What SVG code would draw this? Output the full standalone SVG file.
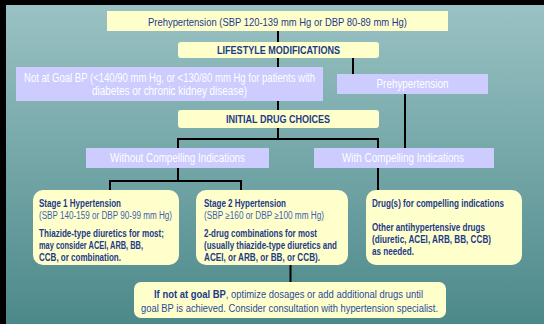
<svg xmlns="http://www.w3.org/2000/svg" width="544" height="324" viewBox="0 0 544 324">
<defs>
<linearGradient id="bg" x1="0" y1="5" x2="0" y2="324" gradientUnits="userSpaceOnUse">
<stop offset="0" stop-color="#9ac2c4"/>
<stop offset="1" stop-color="#4d898a"/>
</linearGradient>
<style>
text{font-family:"Liberation Sans",Arial,sans-serif;}
.y{fill:#ffffcc;}
.l{fill:#ccccff;}
.w{fill:#ffffff;font-size:12px;text-anchor:middle;}
.h{fill:#1c3a8a;text-anchor:middle;}
.b{font-weight:bold;}
.t{fill:#1c3a8a;font-size:10px;font-weight:bold;}
.s{fill:#3d5fb0;font-size:10px;}
.c{fill:none;stroke:#000;stroke-width:2;}
</style>
</defs>
<rect x="0" y="0" width="544" height="324" fill="#000"/>
<rect x="6" y="5" width="538" height="319" fill="url(#bg)"/>
<g id="connectors">
<path class="c" d="M278 31V42M278 58V110M353 58V74M405 94V148M278 128V139M178 148V139H378V190M178 168V181M110 190V181H241V190M290.5 265V282"/>
</g>
<g id="n-prehyp-top">
<rect class="y" x="107" y="11" width="341" height="20"/>
<text class="h" x="277.5" y="25.5" font-size="11.5" textLength="259" lengthAdjust="spacingAndGlyphs">Prehypertension (SBP 120-139 mm Hg or DBP 80-89 mm Hg)</text>
</g>
<g id="n-lifestyle">
<rect class="y" x="178" y="42" width="201" height="16" rx="3"/>
<text class="h b" x="278.5" y="54" font-size="11" textLength="123" lengthAdjust="spacingAndGlyphs">LIFESTYLE MODIFICATIONS</text>
</g>
<g id="n-notgoal">
<rect class="l" x="16" y="67" width="307" height="34"/>
<text class="w" x="169.5" y="81.5" font-size="11.5" textLength="291" lengthAdjust="spacingAndGlyphs">Not at Goal BP (&lt;140/90 mm Hg, or &lt;130/80 mm Hg for patients with</text>
<text class="w" x="169.5" y="94.5" font-size="11.5" textLength="155" lengthAdjust="spacingAndGlyphs">diabetes or chronic kidney disease)</text>
</g>
<g id="n-prehyp-right">
<rect class="l" x="337" y="74" width="151" height="20"/>
<text class="w" x="412.5" y="88" textLength="72" lengthAdjust="spacingAndGlyphs">Prehypertension</text>
</g>
<g id="n-initial">
<rect class="y" x="178" y="110" width="201" height="18" rx="3"/>
<text class="h b" x="278" y="123" font-size="11" textLength="104" lengthAdjust="spacingAndGlyphs">INITIAL DRUG CHOICES</text>
</g>
<g id="n-without">
<rect class="l" x="86" y="148" width="183" height="20"/>
<text class="w" x="177.5" y="162" textLength="135" lengthAdjust="spacingAndGlyphs">Without Compelling Indications</text>
</g>
<g id="n-with">
<rect class="l" x="314" y="148" width="180" height="20"/>
<text class="w" x="403" y="162" textLength="122" lengthAdjust="spacingAndGlyphs">With Compelling Indications</text>
</g>
<g id="n-stage1">
<rect class="y" x="33" y="190" width="146" height="75" rx="10"/>
<text class="t" x="39" y="206.5" textLength="82" lengthAdjust="spacingAndGlyphs">Stage 1 Hypertension</text>
<text class="s" x="39" y="218.5" textLength="133" lengthAdjust="spacingAndGlyphs">(SBP 140-159 or DBP 90-99 mm Hg)</text>
<text class="t" x="39" y="237" textLength="125" lengthAdjust="spacingAndGlyphs">Thiazide-type diuretics for most;</text>
<text class="t" x="39" y="249" textLength="104" lengthAdjust="spacingAndGlyphs">may consider ACEI, ARB, BB,</text>
<text class="t" x="39" y="261" textLength="82" lengthAdjust="spacingAndGlyphs">CCB, or combination.</text>
</g>
<g id="n-stage2">
<rect class="y" x="196" y="190" width="152" height="75" rx="10"/>
<text class="t" x="204" y="206.5" textLength="82" lengthAdjust="spacingAndGlyphs">Stage 2 Hypertension</text>
<text class="s" x="204" y="218.5" textLength="120" lengthAdjust="spacingAndGlyphs">(SBP ≥160 or DBP ≥100 mm Hg)</text>
<text class="t" x="204" y="237" textLength="113" lengthAdjust="spacingAndGlyphs">2-drug combinations for most</text>
<text class="t" x="204" y="249" textLength="133" lengthAdjust="spacingAndGlyphs">(usually thiazide-type diuretics and</text>
<text class="t" x="204" y="261" textLength="116" lengthAdjust="spacingAndGlyphs">ACEI, or ARB, or BB, or CCB).</text>
</g>
<g id="n-compelling">
<rect class="y" x="366" y="190" width="156" height="75" rx="10"/>
<text class="t" x="372" y="206.5" textLength="132" lengthAdjust="spacingAndGlyphs">Drug(s) for compelling indications</text>
<text class="t" x="372" y="230.5" textLength="113" lengthAdjust="spacingAndGlyphs">Other antihypertensive drugs</text>
<text class="t" x="372" y="242.5" textLength="119" lengthAdjust="spacingAndGlyphs">(diuretic, ACEI, ARB, BB, CCB)</text>
<text class="t" x="372" y="254.5" textLength="42" lengthAdjust="spacingAndGlyphs">as needed.</text>
</g>
<g id="n-notgoal-final">
<rect class="y" x="134" y="282" width="312" height="36" rx="7"/>
<text class="s" x="288.5" y="298" text-anchor="middle" font-size="11" style="fill:#2a4a9a" textLength="269" lengthAdjust="spacingAndGlyphs"><tspan font-weight="bold" fill="#1c3a8a">If not at goal BP</tspan>, optimize dosages or add additional drugs until</text>
<text class="s" x="289.5" y="311.5" text-anchor="middle" font-size="11" style="fill:#2a4a9a" textLength="297" lengthAdjust="spacingAndGlyphs">goal BP is achieved. Consider consultation with hypertension specialist.</text>
</g>
</svg>
